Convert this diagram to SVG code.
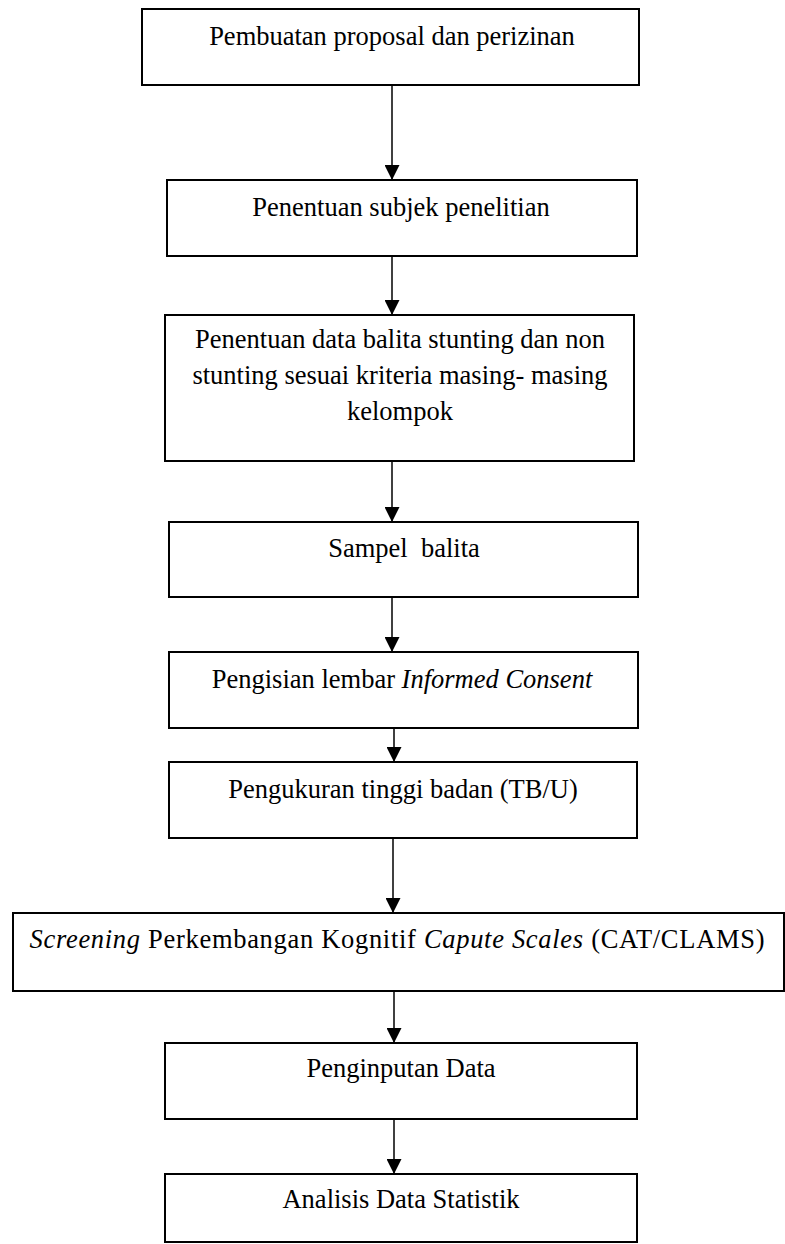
<svg xmlns="http://www.w3.org/2000/svg" width="785" height="1244" viewBox="0 0 785 1244">
<defs>
<style>
.box{fill:#fff;stroke:#000;stroke-width:2}
.t{font-family:'Liberation Serif','DejaVu Serif',serif;font-size:26.5px;fill:#000;text-anchor:middle}
.i{font-style:italic}
.c{stroke:#000;stroke-width:1.5;fill:none;marker-end:url(#ah)}
</style>
<marker id="ah" markerUnits="userSpaceOnUse" markerWidth="16" markerHeight="15" refX="15" refY="7.5" orient="auto">
<path d="M0,0 L15,7.5 L0,15 Z" fill="#000"/>
</marker>
</defs>
<rect width="785" height="1244" fill="#fff"/>
<g id="connectors">
<line class="c" x1="392" y1="86" x2="392" y2="180"/>
<line class="c" x1="392" y1="257" x2="392" y2="315"/>
<line class="c" x1="392" y1="462" x2="392" y2="522"/>
<line class="c" x1="392" y1="598" x2="392" y2="652"/>
<line class="c" x1="394" y1="729" x2="394" y2="762"/>
<line class="c" x1="393" y1="839" x2="393" y2="913"/>
<line class="c" x1="394" y1="992" x2="394" y2="1043"/>
<line class="c" x1="394" y1="1120" x2="394" y2="1174"/>
</g>
<g font-family="Liberation Serif, DejaVu Serif, serif">
<g id="n1">
<rect class="box" x="142" y="9" width="497" height="76"/>
<text class="t" x="392" y="45">Pembuatan proposal dan perizinan</text>
</g>
<g id="n2">
<rect class="box" x="167" y="180" width="470" height="76"/>
<text class="t" x="401" y="216">Penentuan subjek penelitian</text>
</g>
<g id="n3">
<rect class="box" x="165" y="315" width="469" height="146"/>
<text class="t" x="400" y="348">Penentuan data balita stunting dan non</text>
<text class="t" x="400" y="384">stunting sesuai kriteria masing- masing</text>
<text class="t" x="400" y="420">kelompok</text>
</g>
<g id="n4">
<rect class="box" x="169" y="522" width="469" height="75"/>
<text class="t" x="404" y="557" xml:space="preserve">Sampel  balita</text>
</g>
<g id="n5">
<rect class="box" x="169" y="652" width="469" height="76"/>
<text class="t" x="402" y="688">Pengisian lembar <tspan class="i">Informed Consent</tspan></text>
</g>
<g id="n6">
<rect class="box" x="169" y="762" width="468" height="76"/>
<text class="t" x="403" y="798">Pengukuran tinggi badan (TB/U)</text>
</g>
<g id="n7">
<rect class="box" x="13" y="913" width="771" height="78"/>
<text class="t" x="397" y="948" textLength="735" lengthAdjust="spacing"><tspan class="i">Screening</tspan> Perkembangan Kognitif <tspan class="i">Capute Scales</tspan> (CAT/CLAMS)</text>
</g>
<g id="n8">
<rect class="box" x="165" y="1043" width="472" height="76"/>
<text class="t" x="401" y="1077">Penginputan Data</text>
</g>
<g id="n9">
<rect class="box" x="165" y="1174" width="472" height="68"/>
<text class="t" x="401" y="1208">Analisis Data Statistik</text>
</g>
</g>
</svg>
